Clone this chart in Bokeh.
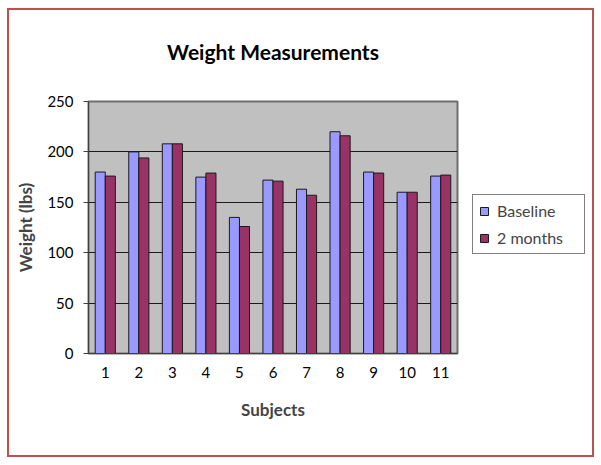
from bokeh.plotting import figure
from bokeh.models import (FactorRange, Range1d, FixedTicker, Legend, LegendItem,
                          ColumnDataSource, Title)
from bokeh.transform import dodge
from bokeh.embed import file_html
from bokeh.resources import INLINE

subjects = ["1", "2", "3", "4", "5", "6", "7", "8", "9", "10", "11"]
baseline = [180, 200, 208, 175, 135, 172, 163, 220, 180, 160, 176]
two_months = [176, 194, 208, 179, 126, 171, 157, 216, 179, 160, 177]
y_ticks = [0, 50, 100, 150, 200, 250]

FONT = "Lato"

src = ColumnDataSource(data=dict(subjects=subjects, baseline=baseline, two_months=two_months))

p = figure(frame_width=369, frame_height=252, output_backend="svg", toolbar_location=None,
           x_range=FactorRange(factors=subjects, range_padding=0),
           y_range=Range1d(0, 250),
           min_border_left=88, min_border_right=137, min_border_top=101, min_border_bottom=104)

p.title = Title(text="Weight Measurements", align="center", vertical_align="top",
                text_font=FONT, text_font_size="21px", text_font_style="bold",
                text_color="#000000", standoff=72)

r1 = p.vbar(x=dodge("subjects", -0.15, range=p.x_range), top="baseline", width=0.3,
            source=src, fill_color="#9999FF", line_color="#1a1a1a", line_width=1)
r2 = p.vbar(x=dodge("subjects", 0.15, range=p.x_range), top="two_months", width=0.3,
            source=src, fill_color="#993366", line_color="#1a1a1a", line_width=1)

p.background_fill_color = "#C0C0C0"
p.border_fill_color = "white"
p.outline_line_color = "#6e6e6e"
p.outline_line_width = 2

p.xgrid.grid_line_color = None
p.ygrid.grid_line_color = "#1a1a1a"
p.ygrid.grid_line_width = 1
p.ygrid.ticker = FixedTicker(ticks=y_ticks)

p.yaxis.ticker = FixedTicker(ticks=y_ticks)
p.yaxis.axis_label = "Weight (lbs)"
p.yaxis.axis_label_text_font = FONT
p.yaxis.axis_label_text_font_size = "17px"
p.yaxis.axis_label_text_font_style = "bold"
p.yaxis.axis_label_standoff = 8
p.yaxis.major_label_text_font = FONT
p.yaxis.major_label_text_font_size = "15px"
p.yaxis.major_label_text_color = "#000000"
p.yaxis.axis_line_color = "#404040"
p.yaxis.major_tick_line_color = "#404040"
p.yaxis.major_tick_out = 5
p.yaxis.major_tick_in = 0
p.yaxis.minor_tick_line_color = None
p.yaxis.major_label_standoff = 10

p.xaxis.axis_label = "Subjects"
p.xaxis.axis_label_text_font = FONT
p.xaxis.axis_label_text_font_size = "17px"
p.xaxis.axis_label_text_font_style = "bold"
p.xaxis.axis_label_standoff = 18
p.xaxis.major_label_text_font = FONT
p.xaxis.major_label_text_font_size = "15px"
p.xaxis.major_label_text_color = "#000000"
p.xaxis.axis_line_color = "#404040"
p.xaxis.major_tick_line_color = None
p.xaxis.major_label_standoff = 7

legend = Legend(items=[LegendItem(label="Baseline", renderers=[r1]),
                       LegendItem(label="2 months", renderers=[r2])],
                location=(15, 99), orientation="vertical",
                label_text_font=FONT, label_text_font_size="16px",
                border_line_color="#000000", border_line_width=1,
                glyph_width=10, glyph_height=10, label_height=18, label_width=81,
                label_standoff=8, padding=6, spacing=8, margin=0,
                background_fill_color="white")
p.add_layout(legend, "right")

html = file_html(p, INLINE)
frame_div = ('<div style="position:absolute;left:7px;top:8px;width:587px;height:449px;'
             'box-sizing:border-box;border:2px solid #c0504d;pointer-events:none;z-index:10"></div>')
html = html.replace("</body>", frame_div + "</body>", 1)
open("out.html", "w").write(html)
